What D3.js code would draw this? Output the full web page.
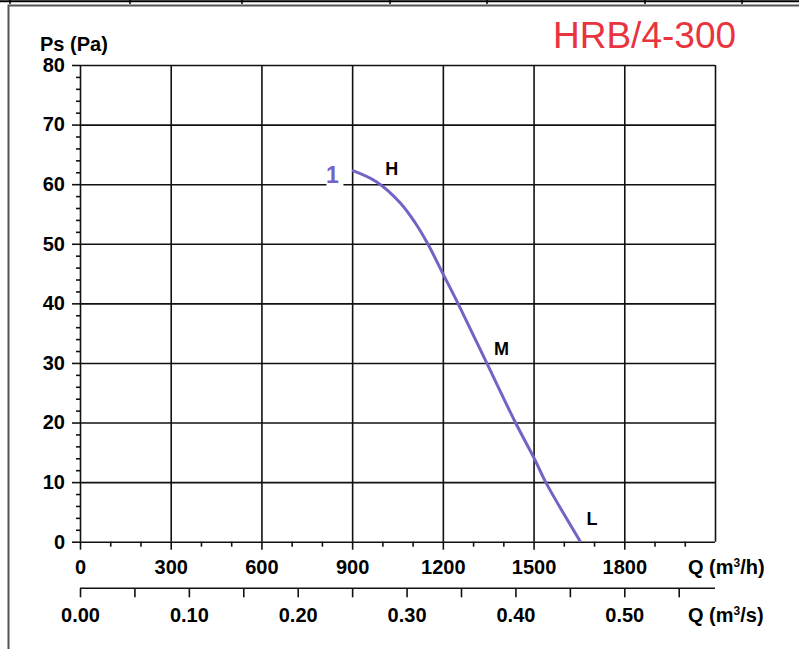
<!DOCTYPE html>
<html>
<head>
    <meta charset="utf-8">
    <title>HRB/4-300</title>
    <script src="https://cdn.jsdelivr.net/npm/d3@7"></script>
    <style>
        body { margin: 0; background: #fff; }
        svg text { font-family: "Liberation Sans", Arial, sans-serif; }
        .tk text { font-size: 20px; font-weight: bold; fill: #000; }
        .tk line, .tk path { stroke: #111; stroke-width: 1.6; }
    </style>
</head>
<body>
<script>
    // chart data
    var flowTicks = [0, 300, 600, 900, 1200, 1500, 1800, 2100],
        flowMinor = [100, 200, 400, 500, 700, 800, 1000, 1100, 1300, 1400, 1600, 1700, 1900, 2000],
        psTicks = [0, 10, 20, 30, 40, 50, 60, 70, 80],
        psMinor = [2, 4, 6, 8, 12, 14, 16, 18, 22, 24, 26, 28, 32, 34, 36, 38,
                   42, 44, 46, 48, 52, 54, 56, 58, 62, 64, 66, 68, 72, 74, 76, 78],
        secTicks = [0, 0.05, 0.10, 0.15, 0.20, 0.25, 0.30, 0.35, 0.40, 0.45, 0.50, 0.55],
        secLabels = [0, 0.10, 0.20, 0.30, 0.40, 0.50];

    // curve 1: Q (m3/h) vs Ps (Pa)
    var curveQ = [900, 980, 1060, 1110, 1150, 1200, 1250, 1345, 1440, 1505, 1540, 1655],
        curvePs = [62.3, 60.4, 56.8, 53.4, 50.0, 45.0, 40.0, 30.0, 20.0, 13.7, 10.0, 0];

    var speedLabels = [
        {txt: 'H', q: 1031, ps: 61.5},
        {txt: 'M', q: 1394, ps: 31.3},
        {txt: 'L', q: 1693, ps: 2.8}
    ];

    var width = 799, height = 649;
    var pLeft = 80, pRight = 715, pTop = 65, pBottom = 541.7;

    var svg = d3.select('body').append('svg')
        .attr('width', width)
        .attr('height', height);

    // page frame remnants
    svg.append('line').attr('x1', 0).attr('x2', width).attr('y1', 1.2).attr('y2', 1.2)
        .attr('stroke', '#000').attr('stroke-width', 2);
    svg.selectAll('.edge').data([10, 130, 242, 390, 487, 645, 742]).enter().append('line')
        .attr('class', 'edge')
        .attr('x1', d => d).attr('x2', d => d).attr('y1', 0).attr('y2', 4)
        .attr('stroke', '#000').attr('stroke-width', 1.5);
    svg.append('path').attr('d', 'M8.5,649V5.5H799')
        .attr('fill', 'none').attr('stroke', '#555').attr('stroke-width', 2);

    var x = d3.scaleLinear().domain([0, 2100]).range([pLeft, pRight]);
    var xs = d3.scaleLinear().domain([0, 2100 / 3600]).range([pLeft, pRight]);
    var y = d3.scaleLinear().domain([0, 80]).range([pBottom, pTop]);

    // grid
    svg.append('g').attr('class', 'tk')
        .attr('transform', 'translate(0,' + pBottom + ')')
        .call(d3.axisBottom(x).tickValues(flowTicks).tickSize(-(pBottom - pTop)).tickFormat(''))
        .call(g => g.select('.domain').remove());
    svg.append('g').attr('class', 'tk')
        .attr('transform', 'translate(' + pLeft + ',0)')
        .call(d3.axisLeft(y).tickValues(psTicks).tickSize(-(pRight - pLeft)).tickFormat(''))
        .call(g => g.select('.domain').remove());

    // y axis labels + minor ticks
    svg.append('g').attr('class', 'tk')
        .attr('transform', 'translate(' + pLeft + ',0)')
        .call(d3.axisLeft(y).tickValues(psTicks).tickSize(8).tickPadding(7).tickFormat(d3.format('d')))
        .call(g => g.select('.domain').remove());
    svg.append('g').attr('class', 'tk')
        .attr('transform', 'translate(' + pLeft + ',0)')
        .call(d3.axisLeft(y).tickValues(psMinor).tickSize(4).tickFormat(''))
        .call(g => g.select('.domain').remove());

    // x axis (m3/h)
    svg.append('g').attr('class', 'tk')
        .attr('transform', 'translate(0,' + pBottom + ')')
        .call(d3.axisBottom(x).tickValues(flowTicks.slice(0, 7)).tickSize(8).tickPadding(10)
            .tickFormat(d3.format('d')))
        .call(g => g.select('.domain').remove());
    svg.append('g').attr('class', 'tk')
        .attr('transform', 'translate(0,' + pBottom + ')')
        .call(d3.axisBottom(x).tickValues(flowMinor).tickSize(5).tickFormat(''))
        .call(g => g.select('.domain').remove());

    // second x axis (m3/s)
    var sAxis = svg.append('g').attr('class', 'tk')
        .attr('transform', 'translate(0,588.3)')
        .call(d3.axisBottom(xs).tickValues(secTicks).tickSize(9).tickSizeOuter(0).tickPadding(10.5)
            .tickFormat(d => secLabels.some(v => Math.abs(v - d) < 1e-9) ? d3.format('.2f')(d) : ''));
    sAxis.select('.domain').attr('d', 'M' + pLeft + ',0H' + pRight);

    // axis titles
    svg.append('text').attr('x', 40).attr('y', 51)
        .attr('font-size', 20).attr('font-weight', 'bold').text('Ps (Pa)');
    var q1 = svg.append('text').attr('x', 688).attr('y', 574)
        .attr('font-size', 20).attr('font-weight', 'bold');
    q1.append('tspan').text('Q (m');
    q1.append('tspan').attr('font-size', 12).attr('dy', -7).text('3');
    q1.append('tspan').attr('dy', 7).text('/h)');
    var q2 = svg.append('text').attr('x', 688).attr('y', 622)
        .attr('font-size', 20).attr('font-weight', 'bold');
    q2.append('tspan').text('Q (m');
    q2.append('tspan').attr('font-size', 12).attr('dy', -7).text('3');
    q2.append('tspan').attr('dy', 7).text('/s)');

    // title
    svg.append('text').attr('x', 553).attr('y', 48)
        .attr('font-size', 37).attr('fill', '#e8343f').text('HRB/4-300');

    // curve
    var pts = curveQ.map((q, i) => [q, curvePs[i]]);
    svg.append('path').datum(pts)
        .attr('fill', 'none').attr('stroke', '#7562c4').attr('stroke-width', 3)
        .attr('d', d3.line().x(d => x(d[0])).y(d => y(d[1])).curve(d3.curveCatmullRom));

    // curve number, on a white patch over the 60 Pa gridline
    svg.append('rect').attr('x', x(815)).attr('y', y(62.5)).attr('width', 17).attr('height', 20)
        .attr('fill', '#fff');
    svg.append('text').attr('x', x(835)).attr('y', y(60.2))
        .attr('text-anchor', 'middle').attr('font-size', 23).attr('font-weight', 'bold')
        .attr('fill', '#7562c4').text('1');

    svg.selectAll('.spd').data(speedLabels).enter().append('text')
        .attr('class', 'spd')
        .attr('x', d => x(d.q)).attr('y', d => y(d.ps))
        .attr('text-anchor', 'middle').attr('font-size', 18).attr('font-weight', 'bold')
        .text(d => d.txt);
</script>
</body>
</html>
